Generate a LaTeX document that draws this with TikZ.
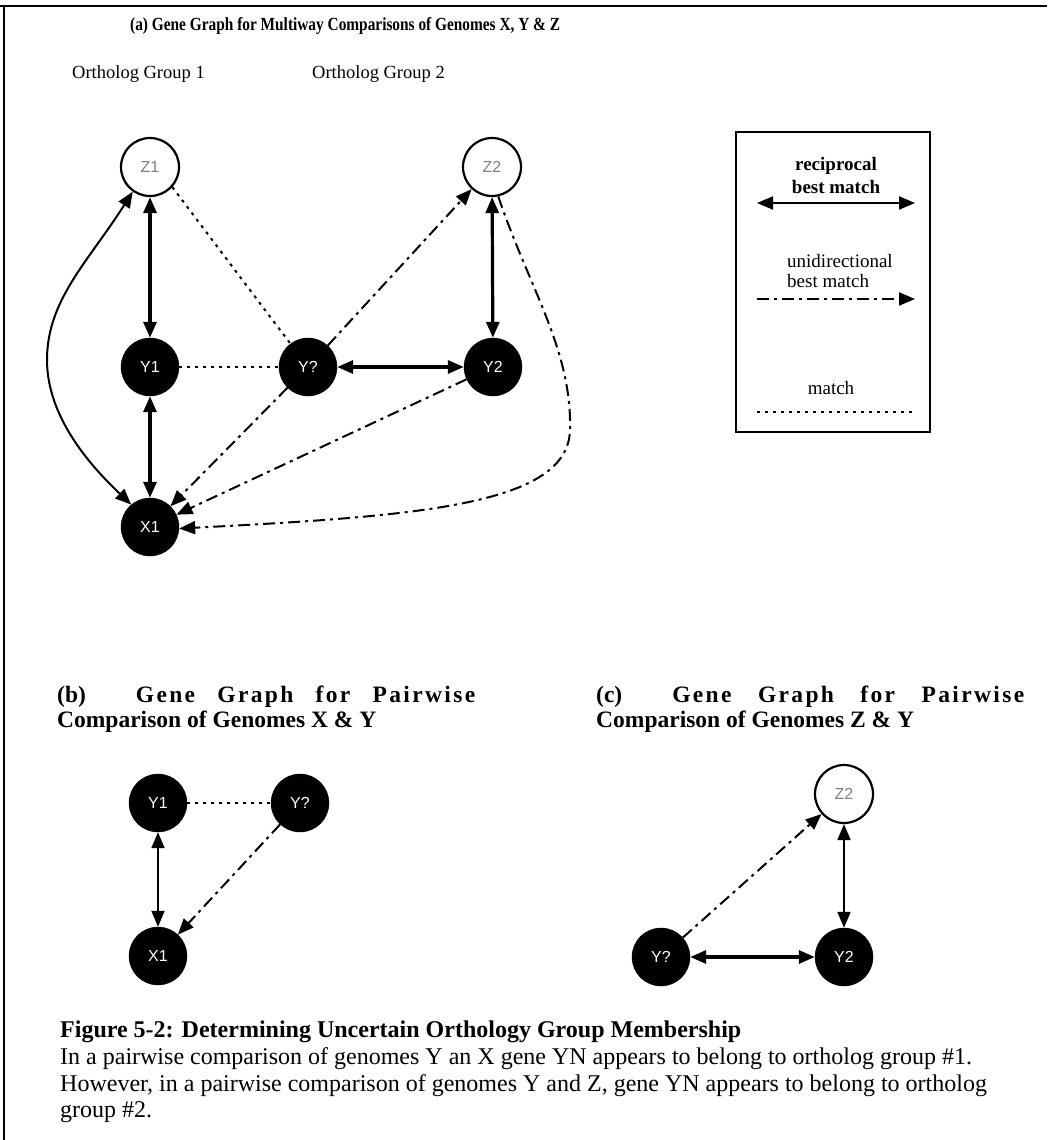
\documentclass[tikz,border=0pt]{standalone}
\usepackage{fontspec}
\setmainfont{Liberation Serif}
\newfontfamily\genefont{Liberation Sans}
\usetikzlibrary{arrows.meta}

\tikzset{
  gene/.style={circle, fill=black, draw=black, minimum size=58pt, inner sep=0pt,
    text=white, font=\genefont\fontsize{16}{16}\selectfont},
  zgene/.style={circle, fill=white, draw=black, line width=2.2pt, minimum size=58pt,
    inner sep=0pt, text=black!50, font=\genefont\fontsize{16}{16}\selectfont},
  recip/.style={line width=3.2pt,
    {Triangle[length=16pt,width=13pt]}-{Triangle[length=16pt,width=13pt]}},
  recipthin/.style={line width=2pt,
    {Triangle[length=16pt,width=13pt]}-{Triangle[length=16pt,width=13pt]}},
  unidir/.style={line width=2pt, dash pattern=on 12pt off 5pt on 3pt off 5pt,
    -{Triangle[length=16pt,width=13pt]}},
  matchline/.style={line width=2pt, dash pattern=on 3pt off 5pt},
  heading/.style={anchor=west, inner sep=0pt, font=\bfseries\fontsize{23.5}{25}\selectfont},
  capline/.style={anchor=west, inner sep=0pt, font=\fontsize{24}{25}\selectfont},
  grouplabel/.style={anchor=west, inner sep=0pt, font=\fontsize{18.5}{19}\selectfont},
  legendtext/.style={inner sep=0pt, font=\fontsize{19}{20}\selectfont},
}

\begin{document}
\begin{tikzpicture}[x=1pt,y=-1pt]
\useasboundingbox (0,0) rectangle (1047,1140);

% frame (top and left edges)
\draw[line width=2.5pt] (0,6) -- (1047,6);
\draw[line width=2.5pt] (4,6) -- (4,1140);

% ---------- (a) multiway gene graph ----------
\node[anchor=west, inner sep=0pt] (ta) at (130,26)
  {\scalebox{0.83}[1]{\bfseries\fontsize{18.5}{19}\selectfont (a) Gene Graph for Multiway Comparisons of Genomes X, Y \& Z}};
\node[grouplabel] (og1) at (72,74) {Ortholog Group 1};
\node[grouplabel] (og2) at (312,74) {Ortholog Group 2};

\node[zgene] (z1) at (150,167) {Z1};
\node[zgene] (z2) at (492,167) {Z2};
\node[gene]  (y1) at (150,367) {Y1};
\node[gene]  (yq) at (308,367) {Y?};
\node[gene]  (y2) at (493,367) {Y2};
\node[gene]  (x1) at (150,527) {X1};

\draw[recip] (z1) -- (y1);
\draw[recip] (y1) -- (x1);
\draw[recip] (yq) -- (y2);
\draw[recip] (z2) -- (y2);
\coordinate (lbend) at (47,360);
\draw[recipthin] (z1.235) .. controls (88,262) and (47,300) .. (lbend)
  .. controls (47,420) and (95,470) .. (x1.130);
\draw[matchline] (z1.-42) -- (yq.127);
\draw[matchline] (y1) -- (yq);
\draw[unidir] (yq) -- (z2);
\draw[unidir] (yq) -- (x1);
\draw[unidir] (y2) -- (x1);
\coordinate (rbend) at (570,430);
\draw[unidir] (z2.-78) .. controls (530,290) and (572,350) .. (rbend)
  .. controls (568,505) and (420,516) .. (x1.-3);

% legend
\node[draw, line width=2.2pt, minimum width=194pt, minimum height=300pt, inner sep=0pt]
  (leg) at (833,282) {};
\node[legendtext, align=center, font=\bfseries\fontsize{19}{23}\selectfont] (lr) at (836,175) {reciprocal\\best match};
\coordinate (lra) at (757,203);
\coordinate (lrb) at (915,203);
\draw[recipthin] (lra) -- (lrb);
\node[legendtext, align=left, anchor=west] (lu) at (787,271) {unidirectional\\best match};
\coordinate (lua) at (757,299);
\coordinate (lub) at (915,299);
\draw[unidir] (lua) -- (lub);
\node[legendtext] (lm) at (831,388) {match};
\coordinate (lma) at (757,412);
\coordinate (lmb) at (915,412);
\draw[matchline] (lma) -- (lmb);

% ---------- (b) pairwise X & Y ----------
\node[heading] (tb1) at (57,697) {\makebox[418pt][l]{(b)\hspace{50pt}\addfontfeature{LetterSpace=10}Gene\hfill Graph\hfill for\hfill Pairwise}};
\node[heading] (tb2) at (57,722) {Comparison of Genomes X \& Y};
\node[gene] (by1) at (158,803) {Y1};
\node[gene] (byq) at (300,803) {Y?};
\node[gene] (bx1) at (158,956) {X1};
\draw[recipthin] (by1) -- (bx1);
\draw[matchline] (by1) -- (byq);
\draw[unidir] (byq) -- (bx1);

% ---------- (c) pairwise Z & Y ----------
\node[heading] (tc1) at (596,697) {\makebox[428pt][l]{(c)\hspace{50pt}\addfontfeature{LetterSpace=10}Gene\hfill Graph\hfill for\hfill Pairwise}};
\node[heading] (tc2) at (596,722) {Comparison of Genomes Z \& Y};
\node[zgene] (cz2) at (844,794) {Z2};
\node[gene]  (cyq) at (661,957) {Y?};
\node[gene]  (cy2) at (844,957) {Y2};
\draw[recipthin] (cz2) -- (cy2);
\draw[recip] (cyq) -- (cy2);
\draw[unidir] (cyq) -- (cz2);

% ---------- caption ----------
\node[heading, font=\bfseries\fontsize{24}{25}\selectfont] (cap) at (60,1032) {Figure 5-2: Determining Uncertain Orthology Group Membership};
\node[capline] (l1) at (60,1059) {In a pairwise comparison of genomes Y an X gene YN appears to belong to ortholog group \#1.};
\node[capline] (l2) at (60,1086) {However, in a pairwise comparison of genomes Y and Z, gene YN appears to belong to ortholog};
\node[capline] (l3) at (60,1112) {group \#2.};
\end{tikzpicture}
\end{document}
